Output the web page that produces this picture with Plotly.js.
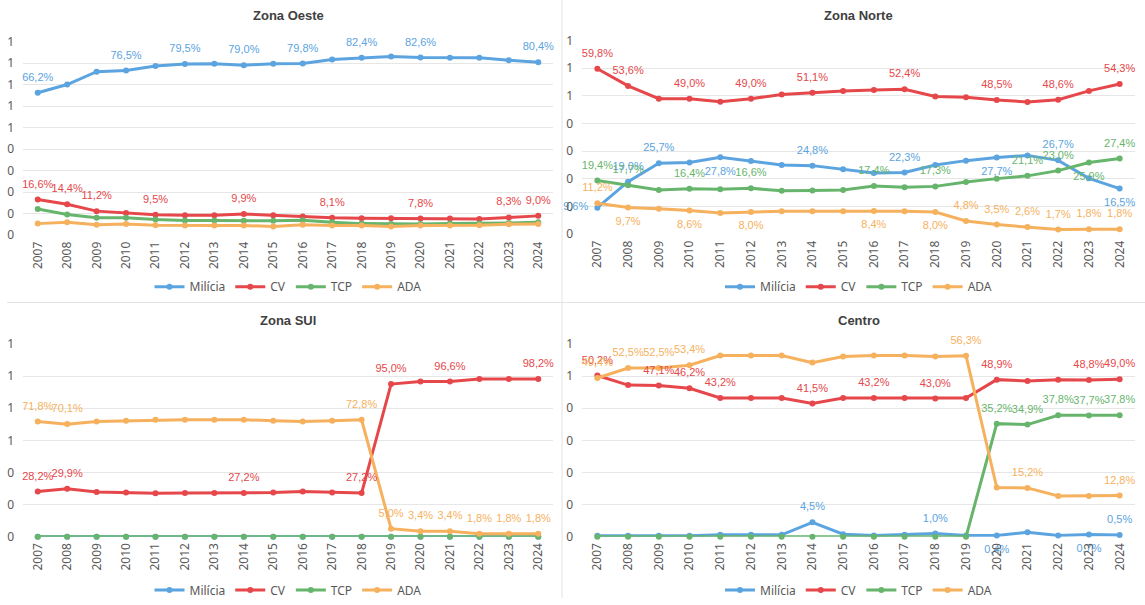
<!DOCTYPE html>
<html>
<head>
<meta charset="utf-8">
<script src="https://cdn.plot.ly/plotly-3.0.1.min.js"></script>
<style>html,body{margin:0;padding:0;background:#fff;}#chart{width:1145px;height:605px;}</style>
</head>
<body>
<div id="chart"></div>
<script>
// ---------------- DATA ----------------
const years = ['2007','2008','2009','2010','2011','2012','2013','2014','2015','2016','2017','2018','2019','2020','2021','2022','2023','2024'];
const seriesNames = ['Milícia','CV','TCP','ADA'];
const panelTitles = ['Zona Oeste','Zona Norte','Zona SUl','Centro'];

// Zona Oeste
const oesteMilicia = [0.662,0.700,0.760,0.765,0.786,0.795,0.797,0.790,0.797,0.798,0.816,0.824,0.830,0.826,0.825,0.825,0.813,0.804];
const oesteCV      = [0.166,0.144,0.112,0.103,0.095,0.093,0.093,0.099,0.093,0.087,0.081,0.079,0.079,0.078,0.078,0.076,0.083,0.090];
const oesteTCP     = [0.122,0.096,0.081,0.081,0.073,0.069,0.069,0.067,0.067,0.070,0.060,0.054,0.052,0.052,0.055,0.055,0.057,0.060];
const oesteADA     = [0.054,0.060,0.049,0.052,0.047,0.045,0.045,0.045,0.041,0.049,0.045,0.045,0.041,0.045,0.045,0.046,0.051,0.052];
const oesteYTicks  = ['0','0','0','0','0','1','1','1','1','1'];

// Zona Norte
const norteMilicia = [0.096,0.190,0.257,0.259,0.278,0.265,0.250,0.248,0.235,0.221,0.223,0.250,0.266,0.277,0.285,0.267,0.202,0.165];
const norteCV      = [0.598,0.536,0.490,0.490,0.479,0.490,0.505,0.511,0.518,0.521,0.524,0.498,0.495,0.485,0.478,0.486,0.518,0.543];
const norteTCP     = [0.194,0.177,0.160,0.164,0.163,0.166,0.157,0.158,0.160,0.174,0.170,0.173,0.189,0.201,0.211,0.230,0.259,0.274];
const norteADA     = [0.112,0.097,0.092,0.086,0.077,0.080,0.083,0.083,0.083,0.084,0.083,0.080,0.048,0.035,0.026,0.017,0.018,0.018];
const norteYTicks  = ['0','0','0','0','0','1','1','1'];

// Zona Sul
const sulMilicia = [0,0,0,0,0,0,0,0,0,0,0,0,0,0,0,0,0,0];
const sulCV      = [0.282,0.299,0.279,0.275,0.271,0.272,0.272,0.272,0.275,0.281,0.275,0.272,0.950,0.966,0.966,0.982,0.982,0.982];
const sulTCP     = [0,0,0,0,0,0,0,0,0,0,0,0,0,0,0,0,0,0];
const sulADA     = [0.718,0.701,0.718,0.722,0.728,0.728,0.728,0.728,0.722,0.718,0.722,0.728,0.050,0.034,0.034,0.018,0.018,0.018];
const sulYTicks  = ['0','0','0','1','1','1','1'];

// Centro
const centroMilicia = [0.003,0.003,0.003,0.003,0.006,0.006,0.006,0.045,0.008,0.004,0.006,0.010,0.004,0.004,0.014,0.004,0.007,0.005];
const centroCV      = [0.502,0.472,0.471,0.462,0.432,0.432,0.432,0.415,0.432,0.432,0.432,0.430,0.432,0.489,0.485,0.489,0.488,0.490];
const centroTCP     = [0,0,0,0,0,0,0,0,0,0,0,0,0,0.352,0.349,0.378,0.377,0.378];
const centroADA     = [0.494,0.525,0.525,0.534,0.564,0.564,0.564,0.542,0.561,0.564,0.564,0.561,0.563,0.153,0.152,0.127,0.127,0.128];
const centroYTicks  = ['0','0','0','0','0','1','1'];

// which points carry a data label (index into years), and which labels sit below / left
const oesteLabelIdx  = {Milícia:[0,3,5,7,9,11,13,17], CV:[0,1,2,4,7,10,13,16,17], TCP:[], ADA:[]};
const norteLabelIdx  = {Milícia:[0,1,2,4,7,10,13,15,17], CV:[0,1,3,5,7,10,13,15,17], TCP:[0,1,3,5,9,11,14,15,16,17], ADA:[0,1,3,5,9,11,12,13,14,15,16,17]};
const sulLabelIdx    = {Milícia:[], CV:[0,1,7,11,12,14,17], TCP:[], ADA:[0,1,11,12,13,14,15,16,17]};
const centroLabelIdx = {Milícia:[7,11,13,16,17], CV:[0,2,3,4,7,9,11,13,16,17], TCP:[13,14,15,16,17], ADA:[0,1,2,3,12,14,17]};

const norteLabelBelow  = {Milícia:[4,13,17], CV:[], TCP:[16], ADA:[1,3,5,9,11]};
const norteLabelLeft   = {Milícia:[0], CV:[], TCP:[], ADA:[]};
const centroLabelBelow = {Milícia:[13,16], CV:[], TCP:[], ADA:[]};

// ---------------- STYLE / LAYOUT ----------------
const colors = {'Milícia':'#5BA4E0','CV':'#E5474A','TCP':'#67B56C','ADA':'#F6B15E'};
const W = 1145, H = 605;
const LBLFONT = 'Liberation Sans Narrow, Liberation Sans, Arial, sans-serif';
const TICKFONT = 'Noto Sans, Liberation Sans, sans-serif';

const panels = [
  {title: panelTitles[0], data:[oesteMilicia,oesteCV,oesteTCP,oesteADA], lbl:oesteLabelIdx, below:{}, left:{}, ymax:0.9, step:0.1, yt:oesteYTicks,
   px:[23,553], py:[42,238], titleY:16, legendY:290},
  {title: panelTitles[1], data:[norteMilicia,norteCV,norteTCP,norteADA], lbl:norteLabelIdx, below:norteLabelBelow, left:norteLabelLeft, ymax:0.7, step:0.1, yt:norteYTicks,
   px:[582,1135], py:[41,237], titleY:16, legendY:290},
  {title: panelTitles[2], data:[sulMilicia,sulCV,sulTCP,sulADA], lbl:sulLabelIdx, below:{}, left:{}, ymax:1.2, step:0.2, yt:sulYTicks,
   px:[23,553], py:[348,543], titleY:324, legendY:597},
  {title: panelTitles[3], data:[centroMilicia,centroCV,centroTCP,centroADA], lbl:centroLabelIdx, below:centroLabelBelow, left:{}, ymax:0.6, step:0.1, yt:centroYTicks,
   px:[582,1135], py:[348,543], titleY:324, legendY:597}
];

function fmt(v){ return (v*100).toFixed(1).replace('.', ',') + '%'; }

const traces = [];
const layout = {
  width: W, height: H,
  margin: {l:0, r:0, t:0, b:0},
  paper_bgcolor: '#ffffff', plot_bgcolor: '#ffffff',
  showlegend: true,
  annotations: [],
  shapes: [
    {type:'line', xref:'paper', yref:'paper', x0:562/W, x1:562/W, y0:0, y1:1, line:{color:'#e3e3e3', width:1}},
    {type:'line', xref:'paper', yref:'paper', x0:7/W, x1:1, y0:1-306/H, y1:1-306/H, line:{color:'#e3e3e3', width:1}}
  ]
};

panels.forEach((p, k) => {
  const n = k + 1;
  const xa = n === 1 ? 'x' : 'x' + n;
  const ya = n === 1 ? 'y' : 'y' + n;
  const legName = n === 1 ? 'legend' : 'legend' + n;
  const tickvals = p.yt.map((_, i) => +(i * p.step).toFixed(2));

  layout[n === 1 ? 'xaxis' : 'xaxis' + n] = {
    domain: [p.px[0]/W, p.px[1]/W], anchor: ya, type:'category',
    range: [-0.5, years.length - 0.5], tickangle: -90,
    showgrid: false, showline: false, zeroline: false, ticks: '',
    tickfont: {family: TICKFONT, size: 12, color: '#595959'}, ticklabelstandoff: 3,
    fixedrange: true
  };
  layout[n === 1 ? 'yaxis' : 'yaxis' + n] = {
    domain: [1 - p.py[1]/H, 1 - p.py[0]/H], anchor: xa,
    range: [0, p.ymax], tickmode: 'array', tickvals: tickvals, ticktext: p.yt,
    showgrid: true, gridcolor: '#e6e6e6', gridwidth: 1, zeroline: false, showline: false, ticks: '',
    tickfont: {family: TICKFONT, size: 12, color: '#595959'}, ticklabelstandoff: 8,
    fixedrange: true
  };
  layout[legName] = {
    orientation: 'h', x: (p.px[0] + p.px[1]) / 2 / W, xanchor: 'center',
    y: 1 - p.legendY / H, yanchor: 'middle', itemwidth: 30, tracegroupgap: 0,
    font: {family: TICKFONT, size: 12, color: '#595959'}, bgcolor: 'rgba(0,0,0,0)'
  };
  layout.annotations.push({
    text: p.title, xref: 'paper', yref: 'paper', x: (p.px[0] + p.px[1]) / 2 / W, y: 1 - p.titleY / H,
    xanchor: 'center', yanchor: 'middle', showarrow: false,
    font: {family: 'Liberation Sans, Arial, sans-serif', size: 13, color: '#404040', weight: 'bold'}
  });

  seriesNames.forEach((s, j) => {
    const vals = p.data[j];
    traces.push({
      type: 'scatter', mode: 'lines+markers', name: s, x: years, y: vals,
      xaxis: xa, yaxis: ya, legend: legName, showlegend: true,
      line: {color: colors[s], width: 3},
      marker: {color: colors[s], size: 6},
      cliponaxis: false, hoverinfo: 'skip'
    });
  });
  seriesNames.forEach((s, j) => {
    const vals = p.data[j];
    const idx = p.lbl[s] || [];
    const below = p.below[s] || [];
    const left = p.left[s] || [];
    traces.push({
      type: 'scatter', mode: 'markers+text', name: s + ' labels', x: years, y: vals,
      xaxis: xa, yaxis: ya, legend: legName, showlegend: false,
      marker: {size: 13, color: 'rgba(0,0,0,0)', opacity: 0},
      text: vals.map((v, i) => idx.includes(i) ? fmt(v) : ''),
      textposition: vals.map((v, i) => left.includes(i) ? 'middle left' : (below.includes(i) ? 'bottom center' : 'top center')),
      textfont: {family: LBLFONT, size: 11, color: colors[s]},
      cliponaxis: false, hoverinfo: 'skip'
    });
  });
});

Plotly.newPlot('chart', traces, layout, {displayModeBar: false, staticPlot: true});
</script>
</body>
</html>
